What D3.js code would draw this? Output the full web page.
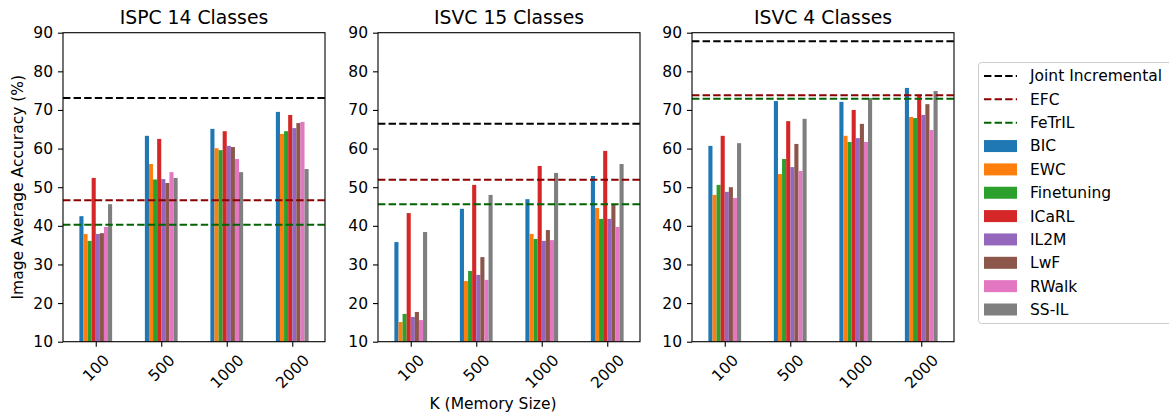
<!DOCTYPE html>
<html>
<head>
<meta charset="utf-8">
<script src="https://cdn.jsdelivr.net/npm/d3@7"></script>
<style>
  body { margin: 0; background: #fff; }
  svg { font-family: "DejaVu Sans", sans-serif; }
</style>
</head>
<body>
<svg id="chart" width="1169" height="417"></svg>
<script>
// Chart data
var memorySizes = ["100", "500", "1000", "2000"];
var methods = ["BIC", "EWC", "Finetuning", "ICaRL", "IL2M", "LwF", "RWalk", "SS-IL"];
var methodColors = ["#1f77b4", "#ff7f0e", "#2ca02c", "#d62728", "#9467bd", "#8c564b", "#e377c2", "#7f7f7f"];
var baselines = ["Joint Incremental", "EFC", "FeTrIL"];
var baselineColors = ["#000000", "#8b0000", "#006400"];
var panelTitles = ["ISPC 14 Classes", "ISVC 15 Classes", "ISVC 4 Classes"];
var yTicks = [10, 20, 30, 40, 50, 60, 70, 80, 90];

// one row per method, one value per memory size
var ispc14 = [
    [42.5, 63.3, 65.1, 69.5],
    [37.9, 56.0, 60.1, 63.8],
    [36.1, 52.0, 59.6, 64.5],
    [52.4, 62.5, 64.5, 68.7],
    [37.9, 52.1, 60.7, 65.3],
    [38.1, 51.1, 60.4, 66.6],
    [39.7, 53.9, 57.3, 66.9],
    [45.6, 52.4, 53.9, 54.7]
];
var isvc15 = [
    [35.8, 44.4, 46.9, 52.9],
    [15.1, 25.7, 37.9, 44.6],
    [17.2, 28.3, 36.6, 41.8],
    [43.3, 50.6, 55.5, 59.4],
    [16.4, 27.3, 36.1, 41.8],
    [17.7, 31.9, 38.9, 45.4],
    [15.6, 26.0, 36.3, 39.7],
    [38.4, 48.0, 53.7, 56.0]
];
var isvc4 = [
    [60.7, 72.3, 72.1, 75.7],
    [48.0, 53.4, 63.3, 68.2],
    [50.6, 57.3, 61.7, 67.9],
    [63.3, 67.1, 70.0, 73.6],
    [48.8, 55.2, 62.7, 68.7],
    [50.0, 61.2, 66.4, 71.5],
    [47.2, 54.2, 61.7, 64.8],
    [61.4, 67.7, 73.1, 74.9]
];
var ispc14Lines = [73.1, 46.6, 40.3];
var isvc15Lines = [66.4, 51.9, 45.6];
var isvc4Lines = [87.8, 73.8, 72.9];

var panelData = [ispc14, isvc15, isvc4];
var panelLines = [ispc14Lines, isvc15Lines, isvc4Lines];

var svg = d3.select("#chart");
var panelLeft = [63, 378, 692];
var panelWidth = 262;
var plotTop = 32.7, plotBottom = 341.7;
var barWidth = 0.0625;

var y = d3.scaleLinear().domain([10, 90]).range([plotBottom, plotTop]);

panelData.forEach(function(rows, p) {
    var x = d3.scaleLinear()
              .domain([-0.5, 3.5])
              .range([panelLeft[p], panelLeft[p] + panelWidth]);
    var g = svg.append("g").classed("panel", true);

    // bars, grouped by memory size
    rows.forEach(function(vals, m) {
        g.selectAll(".bar-" + m)
         .data(vals)
         .enter()
         .append("rect")
           .attr("x", (d, i) => x(i - 0.25 + m * barWidth))
           .attr("width", x(barWidth) - x(0))
           .attr("y", d => y(d))
           .attr("height", d => y(10) - y(d))
           .attr("fill", methodColors[m]);
    });

    // horizontal reference lines
    g.selectAll(".ref")
     .data(panelLines[p])
     .enter()
     .append("line")
       .attr("x1", x(-0.5))
       .attr("x2", x(3.5))
       .attr("y1", d => y(d))
       .attr("y2", d => y(d))
       .attr("stroke", (d, i) => baselineColors[i])
       .attr("stroke-width", 2)
       .attr("stroke-dasharray", "7.4,3.2");

    // axes
    var yAxis = d3.axisLeft(y).tickValues(yTicks).tickSize(5).tickPadding(5);
    var ya = g.append("g")
              .attr("transform", "translate(" + panelLeft[p] + ",0)")
              .call(yAxis);
    ya.select(".domain").remove();
    ya.selectAll("text").attr("font-size", "15.5px").attr("fill", "#000").attr("font-family", "DejaVu Sans");
    ya.selectAll("line").attr("stroke", "#000").attr("stroke-width", 1.1);

    var xAxis = d3.axisBottom(x).tickValues([0, 1, 2, 3])
                  .tickFormat(i => memorySizes[i]).tickSize(5).tickPadding(5);
    var xa = g.append("g")
              .attr("transform", "translate(0," + plotBottom + ")")
              .call(xAxis);
    xa.select(".domain").remove();
    xa.selectAll("line").attr("stroke", "#000").attr("stroke-width", 1.1);
    xa.selectAll("text")
      .attr("font-size", "15.5px")
      .attr("font-family", "DejaVu Sans")
      .attr("fill", "#000")
      .attr("y", null)
      .attr("dy", null)
      .attr("dominant-baseline", "central")
      .attr("text-anchor", "middle")
      .attr("transform", function(d) {
          var w = memorySizes[d].length * 0.636 * 15.5;
          var half = (w + 17) / 2.828;
          return "translate(0," + (10 + half) + ") rotate(-45)";
      });

    // frame
    g.append("rect")
     .attr("x", panelLeft[p])
     .attr("y", plotTop)
     .attr("width", panelWidth)
     .attr("height", plotBottom - plotTop)
     .attr("fill", "none")
     .attr("stroke", "#000")
     .attr("stroke-width", 1.1);

    // title
    g.append("text")
     .attr("x", panelLeft[p] + panelWidth / 2)
     .attr("y", 23.5)
     .attr("text-anchor", "middle")
     .attr("font-size", "18.8px")
     .text(panelTitles[p]);
});

// axis labels
svg.append("text")
   .attr("transform", "translate(22.5," + (plotTop + plotBottom) / 2 + ") rotate(-90)")
   .attr("text-anchor", "middle")
   .attr("font-size", "15.5px")
   .text("Image Average Accuracy (%)");

svg.append("text")
   .attr("x", 493)
   .attr("y", 409)
   .attr("text-anchor", "middle")
   .attr("font-size", "15.5px")
   .text("K (Memory Size)");

// legend
var legend = svg.append("g").classed("legend", true);
legend.append("rect")
      .attr("x", 978.5)
      .attr("y", 62.5)
      .attr("width", 210)
      .attr("height", 261)
      .attr("rx", 3)
      .attr("fill", "#fff")
      .attr("fill-opacity", 0.8)
      .attr("stroke", "#cccccc");

var entries = baselines.map((b, i) => ({label: b, color: baselineColors[i], line: true}))
    .concat(methods.map((m, i) => ({label: m, color: methodColors[i], line: false})));

var items = legend.selectAll(".item")
                  .data(entries)
                  .enter()
                  .append("g")
                  .attr("transform", (d, i) => "translate(984," + (76 + i * 23.35) + ")");

items.filter(d => d.line)
     .append("line")
     .attr("x1", 0).attr("x2", 33)
     .attr("stroke", d => d.color)
     .attr("stroke-width", 2)
     .attr("stroke-dasharray", "7.4,3.2");

items.filter(d => !d.line)
     .append("rect")
     .attr("x", 0).attr("y", -6)
     .attr("width", 33).attr("height", 12)
     .attr("fill", d => d.color);

items.append("text")
     .attr("x", 46)
     .attr("dy", "0.35em")
     .attr("font-size", "15.5px")
     .text(d => d.label);
</script>
</body>
</html>
